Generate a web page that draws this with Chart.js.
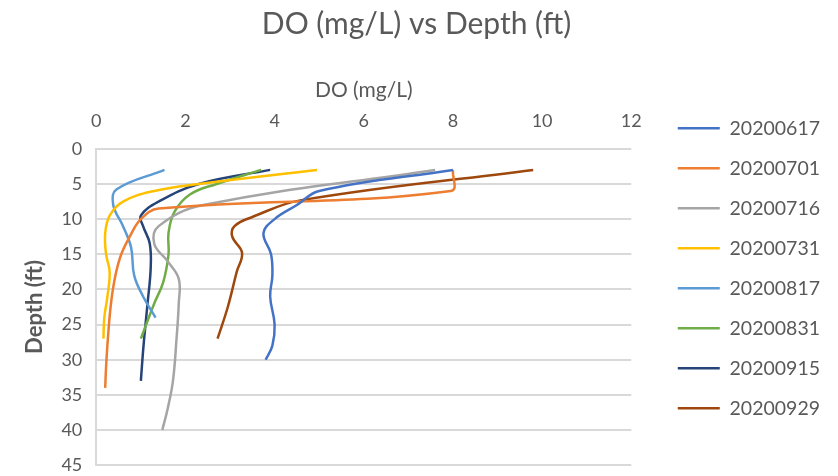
<!DOCTYPE html>
<html lang="en">
<head>
  <meta charset="UTF-8">
  <title>DO (mg/L) vs Depth (ft)</title>
  <script src="https://cdn.jsdelivr.net/npm/chart.js"></script>
  <style>
    body {
      margin: 0;
      padding: 0;
      background: #fff;
    }
    .chart-container {
      width: 838px;
      height: 476px;
    }
  </style>
</head>
<body>
  <div class="chart-container">
    <canvas id="doChart"></canvas>
  </div>

  <script>
    // dates of the profiles (legend labels)
    const dates = ['20200617', '20200701', '20200716', '20200731', '20200817', '20200831', '20200915', '20200929'];

    // depth (ft) and DO (mg/L) for each profile
    const depth0617 = [3, 6, 8, 10, 12, 15, 18, 21, 25, 28, 30];
    const do0617 = [8.0, 5.0, 4.5, 4.0, 3.75, 3.92, 3.95, 3.9, 4.0, 3.95, 3.8];

    const depth0701 = [3, 6, 8.5, 10, 12.5, 15, 18, 22, 27, 31, 34];
    const do0701 = [8.0, 7.95, 1.4, 1.0, 0.75, 0.56, 0.43, 0.33, 0.26, 0.22, 0.2];

    const depth0716 = [3, 8, 11, 13.5, 16, 18.5, 22, 27, 33, 37, 40];
    const do0716 = [7.6, 2.4, 1.4, 1.3, 1.6, 1.85, 1.85, 1.8, 1.72, 1.6, 1.48];

    const depth0731 = [3, 5, 6, 7.5, 9.5, 12, 15, 17.5, 21, 24, 27];
    const do0731 = [4.95, 2.3, 1.3, 0.6, 0.3, 0.2, 0.22, 0.3, 0.25, 0.18, 0.16];

    const depth0817 = [3, 5.8, 8, 11, 14, 18, 21, 24];
    const do0817 = [1.53, 0.45, 0.38, 0.6, 0.78, 0.85, 1.05, 1.33];

    const depth0831 = [3, 5, 6.5, 9, 12, 15, 19, 22, 27];
    const do0831 = [3.7, 2.7, 2.1, 1.75, 1.62, 1.62, 1.5, 1.3, 1.0];

    const depth0915 = [3, 5, 7.5, 9.5, 11, 13.5, 17, 22, 28, 33];
    const do0915 = [3.9, 2.3, 1.4, 1.0, 1.05, 1.2, 1.22, 1.15, 1.06, 1.0];

    const depth0929 = [3, 7.3, 9.7, 11, 12.5, 14.8, 17.5, 22.5, 27];
    const do0929 = [9.8, 4.6, 3.5, 3.1, 3.05, 3.27, 3.15, 2.95, 2.72];

    const depths = [depth0617, depth0701, depth0716, depth0731, depth0817, depth0831, depth0915, depth0929];
    const doValues = [do0617, do0701, do0716, do0731, do0817, do0831, do0915, do0929];
    const colors = ['#4472C4', '#ED7D31', '#A5A5A5', '#FFC000', '#5B9BD5', '#70AD47', '#264478', '#9E480E'];

    const xTicks = [0, 2, 4, 6, 8, 10, 12];
    const yTicks = [0, 5, 10, 15, 20, 25, 30, 35, 40, 45];

    const FONT = 'Lato, "Open Sans", sans-serif';
    const TEXT = '#595959';
    const LEGEND_GAP = 26; // extra room between plot and legend

    function makeDataset(i) {
      return {
        label: dates[i],
        data: depths[i].map((d, k) => ({ x: doValues[i][k], y: d })),
        borderColor: colors[i],
        backgroundColor: colors[i],
        borderWidth: 2.5,
        showLine: true,
        tension: 0.4,
        pointRadius: 0,
        pointHoverRadius: 0,
        pointStyle: 'line',
        fill: false
      };
    }

    // widen the legend box and push its items right, so the plot ends where Excel's did
    const legendGap = {
      id: 'legendGap',
      beforeLayout(chart) {
        const legend = chart.legend;
        if (!legend || legend._gapPatched) return;
        const origFit = legend.fit;
        legend.fit = function () {
          origFit.call(this);
          this.width += LEGEND_GAP;
        };
        legend._gapPatched = true;
      },
      afterLayout(chart) {
        const legend = chart.legend;
        if (!legend) return;
        legend.left += LEGEND_GAP;
        legend.right += LEGEND_GAP;
      }
    };

    const ctx = document.getElementById('doChart').getContext('2d');
    new Chart(ctx, {
      type: 'scatter',
      data: {
        datasets: dates.map((_, i) => makeDataset(i))
      },
      plugins: [legendGap],
      options: {
        responsive: true,
        maintainAspectRatio: false,
        animation: false,
        layout: {
          padding: { left: 3, right: 8, top: 0, bottom: 0 }
        },
        plugins: {
          title: {
            display: true,
            text: 'DO (mg/L) vs Depth (ft)',
            color: TEXT,
            font: { family: FONT, size: 30, weight: 'normal' },
            padding: { top: 6, bottom: 36 }
          },
          legend: {
            position: 'right',
            align: 'start',
            title: {
              display: true,
              text: ' ',
              font: { size: 10, lineHeight: 1 },
              padding: { top: 88, bottom: 0 }
            },
            labels: {
              usePointStyle: true,
              pointStyle: 'line',
              pointStyleWidth: 42,
              boxHeight: 18,
              color: TEXT,
              font: { family: FONT, size: 19.5 },
              padding: 20.5
            }
          },
          tooltip: { enabled: false }
        },
        scales: {
          x: {
            type: 'linear',
            position: 'top',
            min: 0,
            max: 12,
            afterBuildTicks: axis => { axis.ticks = xTicks.map(v => ({ value: v })); },
            grid: { display: false, drawTicks: true, tickLength: 15 },
            border: { display: false },
            ticks: { color: TEXT, font: { family: FONT, size: 18 }, padding: 2 },
            title: {
              display: true,
              text: 'DO (mg/L)',
              color: TEXT,
              font: { family: FONT, size: 21 },
              padding: { top: 0, bottom: 5 }
            }
          },
          y: {
            type: 'linear',
            reverse: true,
            min: 0,
            max: 45,
            afterBuildTicks: axis => { axis.ticks = yTicks.map(v => ({ value: v })); },
            grid: { color: '#D9D9D9', lineWidth: 2, drawTicks: true, tickLength: 14, tickColor: 'rgba(0,0,0,0)' },
            border: { display: true, color: '#D9D9D9', width: 2 },
            ticks: { color: TEXT, font: { family: FONT, size: 18 }, padding: 0 },
            title: {
              display: true,
              text: 'Depth (ft)',
              color: TEXT,
              font: { family: FONT, size: 22, weight: 'bold' },
              padding: { top: 19, bottom: 13 }
            }
          }
        }
      }
    });
  </script>
</body>
</html>
